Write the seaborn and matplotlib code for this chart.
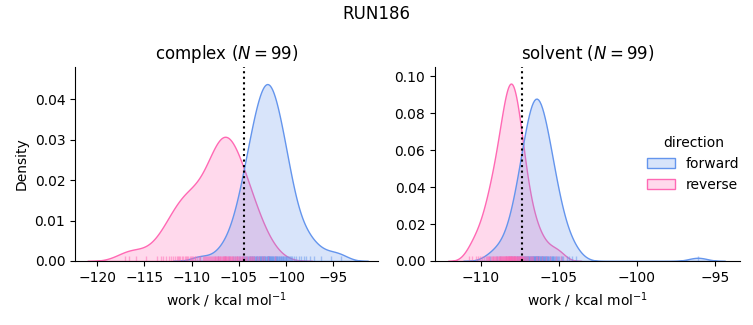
import numpy as np
import pandas as pd
import matplotlib
matplotlib.use("Agg")
import matplotlib.pyplot as plt
import seaborn as sns

# ---- data (kcal/mol) ----
complex_forward = [
    -109.1, -107.2, -106.5, -106.0,
    -105.6, -105.4,
    -105.15, -105.0, -104.85,
    -104.7, -104.58, -104.45, -104.3,
    -104.22, -104.12, -104.03, -103.95, -103.87, -103.78,
    -103.7, -103.63, -103.56, -103.5, -103.43, -103.36, -103.29,
    -103.22, -103.16, -103.1, -103.04, -102.98, -102.92, -102.86, -102.8,
    -102.73, -102.68, -102.62, -102.57, -102.51, -102.46, -102.4, -102.35, -102.29,
    -102.23, -102.18, -102.12, -102.07, -102.01, -101.96, -101.9, -101.85, -101.79,
    -101.73, -101.68, -101.62, -101.57, -101.51, -101.46, -101.4, -101.35, -101.29,
    -101.22, -101.16, -101.1, -101.04, -100.98, -100.92, -100.86, -100.8,
    -100.72, -100.64, -100.57, -100.5, -100.43, -100.36, -100.29,
    -100.2, -100.12, -100.04, -99.96, -99.88, -99.8,
    -99.7, -99.6, -99.5, -101.88, -99.35,
    -99.15, -99.0, -101.76,
    -98.65, -98.4, -98.15, -97.85,
    -97.5, -97.0, -96.3, -95.2, -94.2,
]
complex_reverse = [
    -117.1, -116.6, -115.9, -114.8, -113.7,
    -113.3, -113.0, -112.7,
    -112.4, -112.2, -112.0, -111.8, -111.6,
    -111.45, -111.3, -111.2, -111.0, -110.9, -110.7, -110.6,
    -110.45, -110.35, -110.2, -110.1, -110.0, -109.85, -109.7, -109.6,
    -109.4, -109.25, -109.1, -106.6, -108.8, -108.65, -108.55,
    -108.45, -108.35, -108.25, -108.15, -108.05, -107.95, -107.85, -107.75, -107.65, -107.55,
    -107.48, -107.4, -107.33, -107.25, -107.18, -107.1, -107.02,
    -106.95, -106.88, -106.8, -106.73, -106.65, -106.58, -106.52,
    -106.46, -106.4, -106.33, -106.26, -106.2, -106.12, -106.05,
    -105.98, -105.9, -105.83, -105.76, -105.68, -105.6, -105.53,
    -105.45, -105.35, -105.25, -105.15, -105.05, -104.95, -104.85, -104.75, -104.65,
    -104.58, -104.52,
    -104.4, -104.25, -104.1, -103.95, -103.85, -103.7, -103.6, -103.52,
    -103.35, -103.1, -102.85, -102.6, -102.3, -101.9, -101.2,
]
solvent_forward = [
    -109.4, -109.0, -108.8,
    -106.6, -108.4, -106.35,
    -108.2, -108.1, -108.0, -107.9, -107.8,
    -107.72, -107.67, -107.62, -107.57, -107.52, -107.47, -107.42, -107.37, -107.32, -107.27,
    -107.23, -107.2, -107.17, -107.14, -107.11, -107.08, -107.05, -107.02,
    -106.99, -106.96, -106.93, -106.9, -106.87, -106.84, -106.81, -106.78,
    -106.74, -106.72, -106.69, -106.67, -106.64, -106.62, -106.59, -106.57, -106.54, -106.52,
    -106.49, -106.47, -106.44, -106.42, -106.39, -106.37, -106.34, -106.32, -106.29, -106.27,
    -106.24, -106.21, -106.18, -106.15, -106.12, -106.09, -106.06, -106.03, -106.0,
    -105.97, -105.94, -105.91, -105.88, -105.85, -105.82, -105.79, -105.76,
    -105.72, -105.68, -105.64, -105.6, -105.56, -105.52, -105.48, -105.44, -105.4, -105.36,
    -105.32, -105.28,
    -105.22, -105.14, -105.06, -104.98, -104.9, -104.83, -104.77,
    -106.45, -104.5, -104.35, -104.15, -103.9,
    -96.1,
]
solvent_reverse = [
    -110.8, -110.55, -110.35,
    -110.2, -110.07, -109.93, -109.8,
    -109.7, -109.62, -109.54, -109.46, -109.38, -109.31, -109.26,
    -109.22, -109.17, -109.12, -109.07, -109.02, -108.97, -108.92, -108.87, -108.83, -108.79,
    -108.76,
    -108.73, -108.7, -108.67, -108.64, -108.61, -108.58, -108.55, -108.52, -108.49, -108.46,
    -108.43, -108.4, -108.37, -108.34, -108.31, -108.29, -108.27,
    -108.25, -108.23, -108.21, -108.19, -108.17, -108.15, -108.13, -108.11, -108.09, -108.07,
    -108.05, -109.5, -108.01, -107.99, -107.97, -107.95, -107.93, -107.91, -107.89, -107.87,
    -107.85, -107.83, -107.8, -107.77,
    -107.74, -107.71, -107.68, -107.65, -107.62, -107.59, -107.56, -107.53, -107.5, -107.47,
    -107.44, -107.41, -107.38, -107.35, -107.32, -107.29, -107.26,
    -107.2, -107.12, -107.04, -106.96, -106.88, -106.81, -106.76,
    -106.65, -106.5, -106.4, -106.3, -106.1, -105.85, -105.55, -105.2, -104.9,
]

phases = ["complex", "solvent"]
directions = ["forward", "reverse"]
estimates = [-104.44, -107.40]          # dotted reference lines
series = {
    ("complex", "forward"): complex_forward,
    ("complex", "reverse"): complex_reverse,
    ("solvent", "forward"): solvent_forward,
    ("solvent", "reverse"): solvent_reverse,
}

palette = {"forward": "cornflowerblue", "reverse": "hotpink"}
xlims = [(-122.36, -90.26), (-112.95, -93.40)]
ylims = [(0, 0.048), (0, 0.105)]

df = pd.concat(
    [pd.DataFrame({"phase": p, "dir": d, "work": w}) for (p, d), w in series.items()],
    ignore_index=True,
)

fig = plt.figure(figsize=(7.53, 3.25), dpi=100)
ax_pos = [[0.0996, 0.197, 0.4024, 0.597], [0.5777, 0.197, 0.4050, 0.597]]

for i, (phase, est) in enumerate(zip(phases, estimates)):
    ax = fig.add_axes(ax_pos[i])
    panel = df.copy()
    # density normalised over the whole data set (all phases and directions)
    panel["direction"] = np.where(panel["phase"] == phase, panel["dir"], "other")
    sns.kdeplot(data=panel, x="work", hue="direction", hue_order=directions,
                palette=palette, fill=True, common_norm=True,
                legend=(i == 1), ax=ax)
    sub = df[df["phase"] == phase].rename(columns={"dir": "direction"})
    sns.rugplot(data=sub, x="work", hue="direction", hue_order=directions,
                palette=palette, alpha=0.5, height=0.025, legend=False, ax=ax)
    ax.axvline(est, color="black", ls=":", lw=1.5)
    n = len(series[(phase, "forward")])
    ax.set_title(f"{phase} ($N = {n}$)", fontsize=12)
    ax.set_xlabel("work / kcal mol$^{-1}$")
    ax.set_ylabel("Density" if i == 0 else "")
    ax.set_xlim(*xlims[i])
    ax.set_ylim(*ylims[i])
    sns.despine(ax=ax)
    if i == 1:
        sns.move_legend(ax, "center right", bbox_to_anchor=(1.04, 0.5), frameon=False)

fig.suptitle("RUN186", fontsize=12, y=0.985)
fig.savefig("out.png", dpi=100)
